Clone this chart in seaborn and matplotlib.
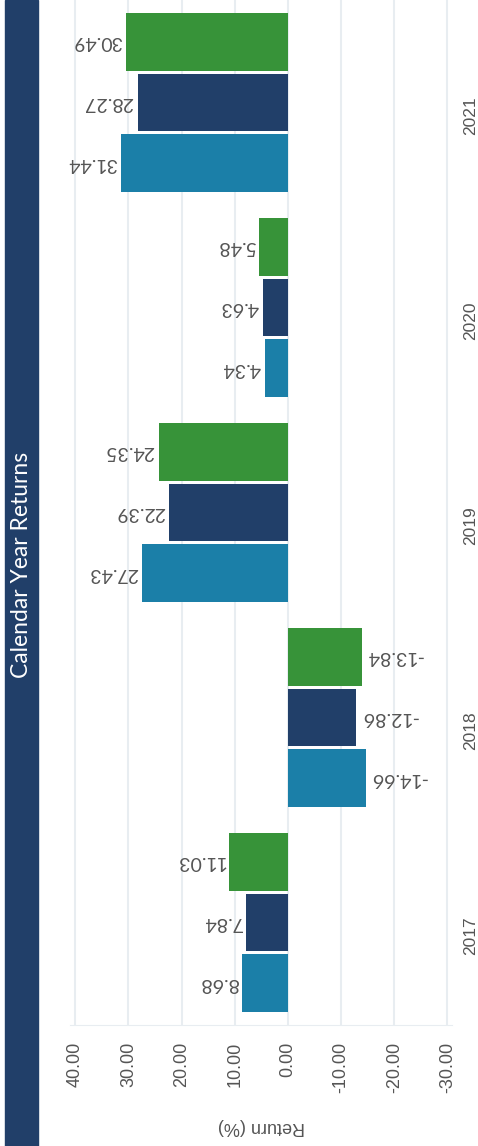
import matplotlib
matplotlib.use("Agg")
import matplotlib.pyplot as plt
from matplotlib.patches import Rectangle
import pandas as pd
import seaborn as sns

# calendar year returns (%) per series
years = ["2017", "2018", "2019", "2020", "2021"]
series = ["Fund", "Benchmark", "Category"]
fund = [8.68, -14.66, 27.43, 4.34, 31.44]
benchmark = [7.84, -12.86, 22.39, 4.63, 28.27]
category = [11.03, -13.84, 24.35, 5.48, 30.49]
colors = ["#1b7fa8", "#213f69", "#379339"]
x_ticks = [40, 30, 20, 10, 0, -10, -20, -30]

rows = []
for name, vals in zip(series, [fund, benchmark, category]):
    for yr, v in zip(years, vals):
        rows.append({"Year": yr, "Series": name, "Return": v})
df = pd.DataFrame(rows)

sns.set_style("white")
plt.rcParams["font.family"] = ["Liberation Sans", "DejaVu Sans"]

fig = plt.figure(figsize=(4.78, 11.46), dpi=100)
ax = fig.add_axes([70 / 478, 121 / 1146, 382 / 478, 1025 / 1146])

sns.barplot(data=df, x="Return", y="Year", hue="Series",
            order=years[::-1], hue_order=series[::-1],
            palette=dict(zip(series, colors)), orient="h",
            width=0.89, gap=0.05, saturation=1, legend=False,
            errorbar=None, linewidth=0, ax=ax)

ax.set_xlim(41.0, -30.85)
ax.set_ylim(4.5, -0.5)

for c in ax.containers:
    ax.bar_label(c, fmt="%.2f", rotation=180, padding=3, fontsize=14,
                 color="#555555", family="Lato")

ax.set_xticks(x_ticks)
ax.set_xticklabels([f"{t:.2f}" for t in x_ticks], rotation=90,
                   fontsize=13, color="#555555")
ax.tick_params(axis="x", length=0, pad=12)

ax.yaxis.tick_right()
ax.tick_params(axis="y", length=0, pad=8, labelsize=12.5,
               labelrotation=90, labelcolor="#555555")
ax.set_ylabel("")
ax.set_xlabel("Return (%)", rotation=180, fontsize=13, color="#555555",
              labelpad=18)

ax.grid(axis="x", color="#e8edf1", lw=1.5)
ax.set_axisbelow(True)
for s in ["left", "top", "right"]:
    ax.spines[s].set_visible(False)
ax.spines["bottom"].set_color("#e8edf1")

# title band on the left
fig.add_artist(Rectangle((5 / 478, 0), 33 / 478, 1, transform=fig.transFigure,
                         color="#213f69", zorder=0))
fig.text(22 / 478, 1 - 565 / 1146, "Calendar Year Returns", rotation=90,
         color="white", fontsize=16.5, ha="center", va="center", family="Lato")

fig.savefig("out.png", dpi=100)
